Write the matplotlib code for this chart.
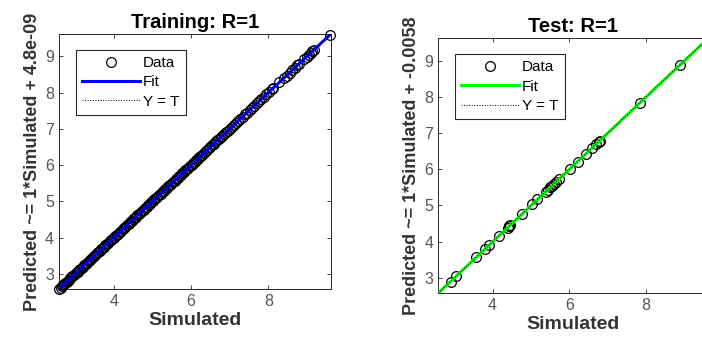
import numpy as np
import matplotlib
matplotlib.use('Agg')
import matplotlib.pyplot as plt

plt.rcParams['font.family'] = ['Liberation Sans', 'DejaVu Sans']

# training targets/outputs (dense band along the diagonal)
train_sim = [2.58, 2.62, 2.65, 2.69, 2.71, 2.74, 2.78, 2.81, 2.83, 2.87, 2.90, 2.93, 2.97,
             3.01, 3.04, 3.06, 3.10, 3.13, 3.17, 3.20, 3.24, 3.27, 3.31, 3.35, 3.38, 3.42,
             3.45, 3.49, 3.52, 3.56, 3.60, 3.63, 3.67, 3.71, 3.74, 3.78, 3.82, 3.85, 3.89,
             3.93, 3.96, 4.00, 4.04, 4.08, 4.11, 4.15, 4.19, 4.23, 4.27, 4.30, 4.34, 4.38,
             4.42, 4.46, 4.50, 4.54, 4.57, 4.61, 4.65, 4.69, 4.73, 4.77, 4.81, 4.85, 4.89,
             4.93, 4.97, 5.01, 5.05, 5.09, 5.13, 5.17, 5.21, 5.25, 5.29, 5.33, 5.37, 5.41,
             5.45, 5.49, 5.53, 5.57, 5.61, 5.65, 5.69, 5.73, 5.77, 5.81, 5.85, 5.89, 5.93,
             5.97, 6.01, 6.05, 6.09, 6.13, 6.17, 6.21, 6.25, 6.29, 6.34, 6.38, 6.42, 6.46,
             6.50, 6.55, 6.59, 6.63, 6.68, 6.72, 6.77, 6.81, 6.86, 6.91, 6.95, 7.00, 7.05,
             7.10, 7.15, 7.21, 7.27, 7.33, 7.40, 7.44, 7.52, 7.58, 7.63, 7.70, 7.76, 7.82,
             7.88, 7.95, 8.02, 8.10, 8.13, 8.28, 8.40, 8.47, 8.55, 8.62, 8.68, 8.75, 8.79,
             8.92, 8.99, 9.05, 9.10, 9.14, 9.18, 9.60]
train_pred = list(train_sim)  # R=1, outputs sit on the targets

# test set
test_sim = [2.91, 3.04, 3.58, 3.81, 3.91, 4.17, 4.40, 4.42, 4.44, 4.46, 4.77, 5.03, 5.17,
            5.39, 5.45, 5.50, 5.55, 5.60, 5.66, 5.74, 6.02, 6.22, 6.43, 6.60, 6.70, 6.77,
            6.80, 7.85, 8.89]
test_pred = [2.90, 3.04, 3.58, 3.80, 3.91, 4.16, 4.39, 4.42, 4.43, 4.45, 4.77, 5.03, 5.17,
             5.38, 5.44, 5.50, 5.55, 5.59, 5.66, 5.73, 6.01, 6.21, 6.42, 6.59, 6.69, 6.76,
             6.79, 7.84, 8.88]

titles = ['Training: R=1', 'Test: R=1']
ylabels = ['Predicted ~= 1*Simulated + 4.8e-09', 'Predicted ~= 1*Simulated + -0.0058']
fit_colors = ['#0000ff', '#00ff00']
fit_slope = [1.0, 1.0]
fit_icpt = [4.8e-09, -0.0058]
lims = (2.58, 9.62)

fig = plt.figure(figsize=(7.02, 3.49), dpi=100)
ax1 = fig.add_axes([0.084, 0.172, 0.3875, 0.731])
ax2 = fig.add_axes([0.624, 0.160, 0.385, 0.731])

sets = [(train_sim, train_pred), (test_sim, test_pred)]
for i, ax in enumerate([ax1, ax2]):
    x, y = sets[i]
    ax.plot(x, y, 'o', mfc='none', mec='black', ms=7, mew=0.9, label='Data',
            clip_on=False, zorder=3)
    xx = np.array(lims)
    ax.plot(xx, fit_slope[i] * xx + fit_icpt[i], color=fit_colors[i], lw=2.2,
            label='Fit', zorder=4)
    ax.plot(xx, xx, ':', color='black', lw=0.7, label='Y = T', zorder=5)
    ax.set_xlim(lims)
    ax.set_ylim(lims)
    ax.set_xticks([4, 6, 8])
    ax.set_yticks([3, 4, 5, 6, 7, 8, 9])
    ax.tick_params(direction='in', top=True, right=True, length=3, width=0.6,
                   colors='#262626', labelcolor='#555555', labelsize=11.5)
    for s in ax.spines.values():
        s.set_color('#262626')
        s.set_linewidth(0.7)
    ax.set_title(titles[i], fontsize=14.5, fontweight='bold', pad=4)
    ax.set_xlabel('Simulated', fontsize=14, fontweight='bold', color='#333333', labelpad=2)
    ax.set_ylabel(ylabels[i], fontsize=13, fontweight='bold', color='#333333', labelpad=3)
    leg = ax.legend(loc='upper left', bbox_to_anchor=(0.062, 0.937), borderaxespad=0,
                    fontsize=11, handlelength=3.8, handletextpad=0.2, labelspacing=0.35,
                    borderpad=0.4, fancybox=False, framealpha=1, edgecolor='#262626')
    leg.get_frame().set_linewidth(0.8)
    leg.set_zorder(10)

fig.savefig('out.png', dpi=100)
